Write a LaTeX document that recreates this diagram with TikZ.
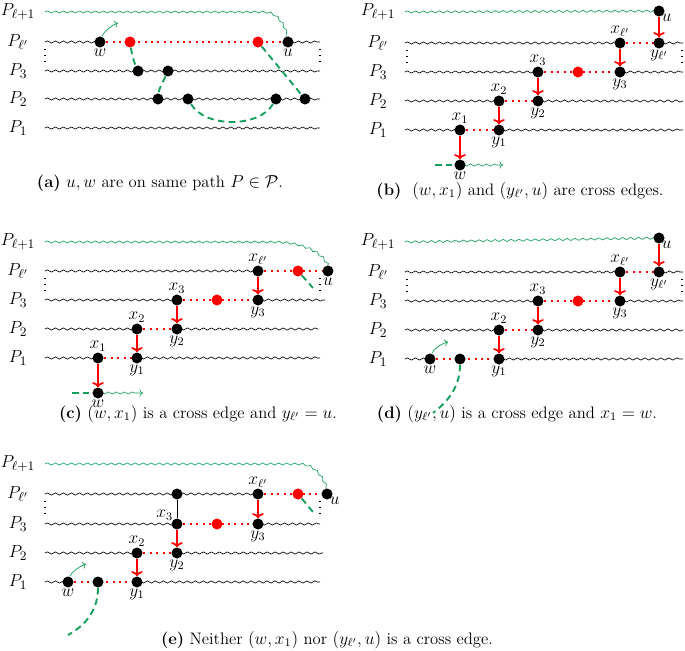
\documentclass[tikz,border=0pt]{standalone}
\usetikzlibrary{decorations.pathmorphing,arrows.meta}
\definecolor{gteal}{RGB}{20,160,90}
\pgfdeclarelayer{bg}\pgfsetlayers{bg,main}
\tikzset{
 vtx/.style={circle,fill=black,inner sep=0pt,minimum size=7.6pt},
 rvtx/.style={circle,fill=red,inner sep=0pt,minimum size=7.6pt},
 wavy/.style={decorate,decoration={snake,amplitude=0.75pt,segment length=5.5pt},line width=0.45pt},
 rdots/.style={red,line width=1.4pt,dash pattern=on 1.4pt off 3pt},
 rarr/.style={red,line width=1.2pt,-{To[length=3.5pt,width=8pt]}},
 gdash/.style={gteal,line width=1.3pt,dash pattern=on 4.5pt off 3pt},
 garr/.style={gteal,line width=0.5pt,-{To[length=2.5pt,width=5pt]}},
 vdotline/.style={line width=0.7pt,dash pattern=on 0.7pt off 3.4pt},
 lab/.style={inner sep=0.3pt,font=\fontsize{12}{14}\selectfont},
 plab/.style={inner sep=0pt,font=\fontsize{12.5}{14}\selectfont},
 capt/.style={inner sep=0pt,font=\fontsize{11.5}{13}\selectfont}
}
\begin{document}
\begin{tikzpicture}[x=0.69pt,y=-0.69pt]
\useasboundingbox (0,0) rectangle (685,650);

% ================= (a) =================
\foreach \t/\y/\n in {{P_{\ell+1}}/12/a5,{P_{\ell'}}/42/a4,{P_3}/71/a3,{P_2}/99/a2,{P_1}/128/a1}
  \node[plab] (pl\n) at (18,\y) {$\t$};
\node[vtx,label={[lab]below:$w$}] (aw) at (100,42) {};
\node[rvtx] (ar1) at (130,42) {};
\node[rvtx] (ar2) at (258,42) {};
\node[vtx,label={[lab]below:$u$}] (au) at (288,42) {};
\node[vtx] (a31) at (138,71) {};
\node[vtx] (a32) at (168,71) {};
\node[vtx] (a21) at (158,99) {};
\node[vtx] (a22) at (188,99) {};
\node[vtx] (a23) at (276,99) {};
\node[vtx] (a24) at (305,99) {};
\coordinate (ag) at (118,23);
\begin{pgfonlayer}{bg}
\draw[wavy,gteal] (45,12) -- (262,12) .. controls (278,12) and (283,28) .. (au.center);
\draw[wavy] (45,42) -- (aw.center);
\draw[wavy] (au.center) -- (320,42);
\draw[wavy] (45,71) -- (320,71);
\draw[wavy] (45,99) -- (320,99);
\draw[wavy] (45,128) -- (320,128);
\draw[rdots] (aw.center) -- (au.center);
\draw[vdotline] (45,49) -- (45,66);
\draw[vdotline] (320,49) -- (320,66);
\end{pgfonlayer}
\draw[gdash] (ar1) .. controls (132,55) and (134,62) .. (a31);
\draw[gdash] (a32) .. controls (164,80) and (159,88) .. (a21);
\draw[gdash] (a22) .. controls (205,128) and (259,128) .. (a23);
\draw[gdash] (ar2) -- (a24);
\draw[garr] (aw) .. controls (103,33) and (110,26) .. (ag);
\node[capt] (capa) at (160,183) {\textbf{(a)} $u,w$ are on same path $P\in\mathcal{P}$.};

% ================= (b) =================
\foreach \t/\y/\n in {{P_{\ell+1}}/12/b5,{P_{\ell'}}/43/b4,{P_3}/72/b3,{P_2}/101/b2,{P_1}/130/b1}
  \node[plab] (pl\n) at (378,\y) {$\t$};
\node[vtx,label={[lab,label distance=-2pt]below right:$u$}] (bu) at (659,11) {};
\node[vtx,label={[lab]above:$x_{\ell'}$}] (bxl) at (620,43) {};
\node[vtx,label={[lab]below:$y_{\ell'}$}] (byl) at (659,43) {};
\node[vtx,label={[lab]above:$x_3$}] (bx3) at (538,72) {};
\node[rvtx] (br) at (578,72) {};
\node[vtx,label={[lab]below:$y_3$}] (by3) at (620,72) {};
\node[vtx,label={[lab]above:$x_2$}] (bx2) at (499,101) {};
\node[vtx,label={[lab]below:$y_2$}] (by2) at (538,101) {};
\node[vtx,label={[lab]above:$x_1$}] (bx1) at (460,130) {};
\node[vtx,label={[lab]below:$y_1$}] (by1) at (499,130) {};
\node[vtx,label={[lab]below:$w$}] (bw) at (460,165) {};
\coordinate (bg1) at (435,165);
\coordinate (bg2) at (503,165);
\begin{pgfonlayer}{bg}
\draw[wavy,gteal] (405,12) -- (bu.center);
\draw[wavy] (405,43) -- (bxl.center);
\draw[wavy] (byl.center) -- (683,43);
\draw[wavy] (405,72) -- (bx3.center);
\draw[wavy] (by3.center) -- (683,72);
\draw[wavy] (405,101) -- (bx2.center);
\draw[wavy] (by2.center) -- (683,101);
\draw[wavy] (405,130) -- (bx1.center);
\draw[wavy] (by1.center) -- (683,130);
\draw[rdots] (bxl.center) -- (byl.center);
\draw[rdots] (bx3.center) -- (by3.center);
\draw[rdots] (bx2.center) -- (by2.center);
\draw[rdots] (bx1.center) -- (by1.center);
\draw[vdotline] (407,50) -- (407,67);
\draw[vdotline] (682,50) -- (682,67);
\draw[wavy,gteal,decoration={post length=3pt},-{To[length=2.5pt,width=5pt]}] (bw.center) -- (bg2);
\end{pgfonlayer}
\draw[rarr] (bu) -- (byl);
\draw[rarr] (bxl) -- (by3);
\draw[rarr] (bx3) -- (by2);
\draw[rarr] (bx2) -- (by1);
\draw[rarr] (bx1) -- (bw);
\draw[gdash] (bg1) -- (bw);
\node[capt] (capb) at (520,191) {\textbf{(b)}\ \ $(w,x_1)$ and $(y_{\ell'},u)$ are cross edges.};

% ================= (c) =================
\foreach \t/\y/\n in {{P_{\ell+1}}/242/c5,{P_{\ell'}}/271/c4,{P_3}/300/c3,{P_2}/329/c2,{P_1}/358/c1}
  \node[plab] (pl\n) at (18,\y) {$\t$};
\node[vtx,label={[lab]above:$x_{\ell'}$}] (cxl) at (258,271) {};
\node[rvtx] (cr1) at (298,271) {};
\node[vtx,label={[lab]below:$u$}] (cu) at (328,271) {};
\node[vtx,label={[lab]above:$x_3$}] (cx3) at (177,300) {};
\node[rvtx] (cr2) at (217,300) {};
\node[vtx,label={[lab]below:$y_3$}] (cy3) at (258,300) {};
\node[vtx,label={[lab]above:$x_2$}] (cx2) at (137,329) {};
\node[vtx,label={[lab]below:$y_2$}] (cy2) at (177,329) {};
\node[vtx,label={[lab]above:$x_1$}] (cx1) at (98,358) {};
\node[vtx,label={[lab]below:$y_1$}] (cy1) at (137,358) {};
\node[vtx,label={[lab]below:$w$}] (cw) at (98,393) {};
\coordinate (cg0) at (313,288);
\coordinate (cg1) at (72,393);
\coordinate (cg2) at (143,393);
\begin{pgfonlayer}{bg}
\draw[wavy,gteal] (45,242) -- (272,242) .. controls (300,242) and (324,252) .. (cu.center);
\draw[wavy] (45,271) -- (cxl.center);
\draw[wavy] (45,300) -- (cx3.center);
\draw[wavy] (cy3.center) -- (325,300);
\draw[wavy] (45,329) -- (cx2.center);
\draw[wavy] (cy2.center) -- (318,329);
\draw[wavy] (45,358) -- (cx1.center);
\draw[wavy] (cy1.center) -- (320,358);
\draw[rdots] (cxl.center) -- (cu.center);
\draw[rdots] (cx3.center) -- (cy3.center);
\draw[rdots] (cx2.center) -- (cy2.center);
\draw[rdots] (cx1.center) -- (cy1.center);
\draw[vdotline] (45,278) -- (45,295);
\draw[vdotline] (320,278) -- (320,295);
\draw[wavy,gteal,decoration={post length=3pt},-{To[length=2.5pt,width=5pt]}] (cw.center) -- (cg2);
\end{pgfonlayer}
\draw[rarr] (cxl) -- (cy3);
\draw[rarr] (cx3) -- (cy2);
\draw[rarr] (cx2) -- (cy1);
\draw[rarr] (cx1) -- (cw);
\draw[gdash] (cr1) -- (cg0);
\draw[gdash] (cg1) -- (cw);
\node[capt] (capc) at (198,414) {\textbf{(c)} $(w,x_1)$ is a cross edge and $y_{\ell'}=u$.};

% ================= (d) =================
\foreach \t/\y/\n in {{P_{\ell+1}}/242/d5,{P_{\ell'}}/272/d4,{P_3}/301/d3,{P_2}/330/d2,{P_1}/359/d1}
  \node[plab] (pl\n) at (378,\y) {$\t$};
\node[vtx,label={[lab,label distance=-2pt]below right:$u$}] (du) at (659,238) {};
\node[vtx,label={[lab]above:$x_{\ell'}$}] (dxl) at (620,272) {};
\node[vtx,label={[lab]below:$y_{\ell'}$}] (dyl) at (659,272) {};
\node[vtx,label={[lab]above:$x_3$}] (dx3) at (538,301) {};
\node[rvtx] (dr) at (578,301) {};
\node[vtx,label={[lab]below:$y_3$}] (dy3) at (620,301) {};
\node[vtx,label={[lab]above:$x_2$}] (dx2) at (499,330) {};
\node[vtx,label={[lab]below:$y_2$}] (dy2) at (538,330) {};
\node[vtx,label={[lab]below:$w$}] (dw) at (430,359) {};
\node[vtx] (db) at (460,359) {};
\node[vtx,label={[lab]below:$y_1$}] (dy1) at (499,359) {};
\coordinate (dg1) at (448,342);
\coordinate (dg2) at (433,413);
\begin{pgfonlayer}{bg}
\draw[wavy,gteal] (405,242) -- (du.center);
\draw[wavy] (405,272) -- (dxl.center);
\draw[wavy] (dyl.center) -- (683,272);
\draw[wavy] (405,301) -- (dx3.center);
\draw[wavy] (dy3.center) -- (683,301);
\draw[wavy] (405,330) -- (dx2.center);
\draw[wavy] (dy2.center) -- (683,330);
\draw[wavy] (405,359) -- (dw.center);
\draw[wavy] (dy1.center) -- (683,359);
\draw[rdots] (dxl.center) -- (dyl.center);
\draw[rdots] (dx3.center) -- (dy3.center);
\draw[rdots] (dx2.center) -- (dy2.center);
\draw[rdots] (dw.center) -- (dy1.center);
\draw[vdotline] (407,279) -- (407,296);
\draw[vdotline] (682,279) -- (682,296);
\end{pgfonlayer}
\draw[rarr] (du) -- (dyl);
\draw[rarr] (dxl) -- (dy3);
\draw[rarr] (dx3) -- (dy2);
\draw[rarr] (dx2) -- (dy1);
\draw[garr] (dw) .. controls (433,350) and (440,344) .. (dg1);
\draw[gdash] (db) .. controls (460,385) and (450,400) .. (dg2);
\node[capt] (capd) at (517,414) {\textbf{(d)} $(y_{\ell'},u)$ is a cross edge and $x_1=w$.};

% ================= (e) =================
\foreach \t/\y/\n in {{P_{\ell+1}}/464/e5,{P_{\ell'}}/494/e4,{P_3}/524/e3,{P_2}/553/e2,{P_1}/582/e1}
  \node[plab] (pl\n) at (18,\y) {$\t$};
\node[vtx] (eb) at (177,494) {};
\node[vtx,label={[lab]above:$x_{\ell'}$}] (exl) at (258,494) {};
\node[rvtx] (er1) at (298,494) {};
\node[vtx,label={[lab,label distance=-2pt]below right:$u$}] (eu) at (327,494) {};
\node[vtx,label={[lab,label distance=-1pt]140:$x_3$}] (ex3) at (177,524) {};
\node[rvtx] (er2) at (217,524) {};
\node[vtx,label={[lab]below:$y_3$}] (ey3) at (258,524) {};
\node[vtx,label={[lab]above:$x_2$}] (ex2) at (137,553) {};
\node[vtx,label={[lab]below:$y_2$}] (ey2) at (177,553) {};
\node[vtx,label={[lab]below:$w$}] (ew) at (68,582) {};
\node[vtx] (eb2) at (98,582) {};
\node[vtx,label={[lab]below:$y_1$}] (ey1) at (137,582) {};
\coordinate (eg0) at (313,512);
\coordinate (eg1) at (86,564);
\coordinate (eg2) at (68,635);
\begin{pgfonlayer}{bg}
\draw[wavy,gteal] (45,464) -- (297,464) .. controls (314,464) and (322,478) .. (eu.center);
\draw[wavy] (45,494) -- (exl.center);
\draw[wavy] (45,524) -- (ex3.center);
\draw[wavy] (ey3.center) -- (320,524);
\draw[wavy] (45,553) -- (ex2.center);
\draw[wavy] (ey2.center) -- (323,553);
\draw[wavy] (45,582) -- (ew.center);
\draw[wavy] (ey1.center) -- (320,582);
\draw[rdots] (exl.center) -- (eu.center);
\draw[rdots] (ex3.center) -- (ey3.center);
\draw[rdots] (ex2.center) -- (ey2.center);
\draw[rdots] (ew.center) -- (ey1.center);
\draw[vdotline] (45,501) -- (45,518);
\draw[vdotline] (320,501) -- (320,518);
\end{pgfonlayer}
\draw[line width=0.5pt] (eb) -- (ex3);
\draw[rarr] (exl) -- (ey3);
\draw[rarr] (ex3) -- (ey2);
\draw[rarr] (ex2) -- (ey1);
\draw[gdash] (er1) -- (eg0);
\draw[garr] (ew) .. controls (71,573) and (78,567) .. (eg1);
\draw[gdash] (eb2) .. controls (98,608) and (88,624) .. (eg2);
\node[capt] (cape) at (327,640) {\textbf{(e)} Neither $(w,x_1)$ nor $(y_{\ell'},u)$ is a cross edge.};
\end{tikzpicture}
\end{document}
